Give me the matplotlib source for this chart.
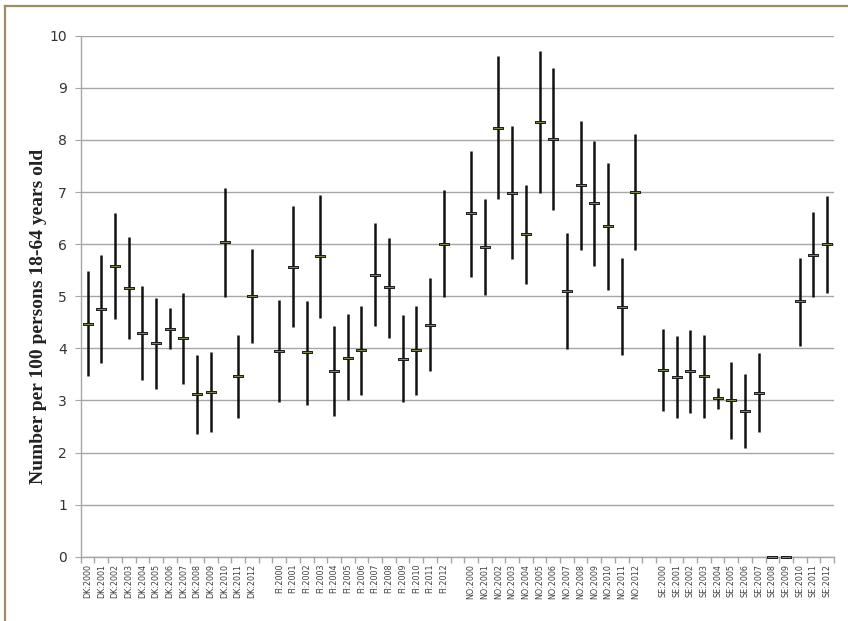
import numpy as np
import matplotlib
matplotlib.use("Agg")
import matplotlib.pyplot as plt
from matplotlib.path import Path
from matplotlib.lines import Line2D

# years per country
years = list(range(2000, 2013))
countries = ["DK", "FI", "NO", "SE"]

# mean, lower and upper bound per country/year
dk_mean = [4.47, 4.75, 5.58, 5.16, 4.29, 4.10, 4.38, 4.19, 3.13, 3.17, 6.04, 3.46, 5.01]
dk_low = [3.46, 3.71, 4.56, 4.17, 3.40, 3.22, 3.98, 3.32, 2.36, 2.40, 4.99, 2.67, 4.10]
dk_high = [5.48, 5.79, 6.59, 6.14, 5.19, 4.97, 4.77, 5.06, 3.87, 3.92, 7.08, 4.25, 5.90]

fi_mean = [3.95, 5.57, 3.92, 5.77, 3.56, 3.82, 3.96, 5.41, 5.17, 3.80, 3.96, 4.45, 6.00]
fi_low = [2.97, 4.40, 2.92, 4.58, 2.70, 3.00, 3.11, 4.42, 4.19, 2.97, 3.11, 3.56, 4.98]
fi_high = [4.93, 6.73, 4.91, 6.95, 4.42, 4.66, 4.81, 6.40, 6.12, 4.63, 4.81, 5.35, 7.03]

no_mean = [6.59, 5.94, 8.23, 6.99, 6.19, 8.34, 8.02, 5.10, 7.14, 6.78, 6.34, 4.80, 7.00]
no_low = [5.36, 5.03, 6.87, 5.71, 5.24, 6.98, 6.65, 3.99, 5.88, 5.58, 5.12, 3.87, 5.89]
no_high = [7.78, 6.87, 9.61, 8.26, 7.14, 9.71, 9.38, 6.22, 8.37, 7.97, 7.56, 5.73, 8.11]

se_mean = [3.58, 3.45, 3.56, 3.46, 3.04, 3.00, 2.80, 3.15, 0.00, 0.00, 4.90, 5.80, 6.00]
se_low = [2.79, 2.67, 2.75, 2.67, 2.84, 2.26, 2.09, 2.39, 0.00, 0.00, 4.05, 4.98, 5.07]
se_high = [4.38, 4.23, 4.35, 4.25, 3.23, 3.73, 3.51, 3.91, 0.00, 0.00, 5.74, 6.62, 6.93]

series = {
    "DK": (dk_mean, dk_low, dk_high),
    "FI": (fi_mean, fi_low, fi_high),
    "NO": (no_mean, no_low, no_high),
    "SE": (se_mean, se_low, se_high),
}

# lay the categories out with one empty slot between countries
labels, means, lows, highs = [], [], [], []
for i, c in enumerate(countries):
    if i > 0:
        labels.append("")
        means.append(np.nan)
        lows.append(np.nan)
        highs.append(np.nan)
    m, lo, hi = series[c]
    labels += [f"{c}:{y}" for y in years]
    means += m
    lows += lo
    highs += hi

x = np.arange(len(labels))
means = np.array(means)
lows = np.array(lows)
highs = np.array(highs)

fig = plt.figure(figsize=(8.48, 6.21), dpi=100)
ax = fig.add_axes([0.0952, 0.1035, 0.8883, 0.839])

ax.set_ylim(0, 10)
ax.set_xlim(-0.5, len(labels) - 0.5)
ax.set_yticks(range(0, 11))
ax.yaxis.grid(True, color="#a6a6a6", lw=1.0)
ax.set_axisbelow(True)

# range lines
ax.vlines(x, lows, highs, color="#111111", lw=1.8, zorder=2)

# flat rectangular marker for the mean
bar_marker = Path([(-1, -0.3), (1, -0.3), (1, 0.3), (-1, 0.3), (-1, -0.3)],
                  [Path.MOVETO, Path.LINETO, Path.LINETO, Path.LINETO, Path.CLOSEPOLY])
ax.plot(x, means, ls="none", marker=bar_marker, ms=6.8, mfc="#728c4c",
        mec="#1a1a1a", mew=0.7, zorder=3, clip_on=False)

for s in ["top", "right"]:
    ax.spines[s].set_visible(False)
for s in ["left", "bottom"]:
    ax.spines[s].set_color("#a6a6a6")
    ax.spines[s].set_linewidth(1.0)

# category labels at slot centres, tick marks on slot edges
shown = [i for i, l in enumerate(labels) if l]
ax.set_xticks(shown)
ax.set_xticklabels([labels[i] for i in shown], rotation=90, fontsize=5.8,
                   color="#404040")
ax.tick_params(axis="x", which="major", length=0, pad=5)
ax.set_xticks(np.arange(-0.5, len(labels)), minor=True)
ax.tick_params(axis="x", which="minor", length=4, color="#a6a6a6", width=1)
ax.tick_params(axis="y", length=4, color="#a6a6a6", labelsize=10,
               labelcolor="#333333", pad=6)

fig.text(39 / 848, 1 - 316 / 621, "Number per 100 persons 18-64 years old",
         rotation=90, ha="center", va="center", fontsize=14,
         fontweight="bold", family="Liberation Serif", color="#222222")

# outer frame (only top and left edges are in view)
frame_col = "#a08c64"
fig.add_artist(Line2D([4.5 / 848, 1.0], [1 - 5.5 / 621] * 2, color=frame_col, lw=1.6))
fig.add_artist(Line2D([4.5 / 848] * 2, [0.0, 1 - 5.5 / 621], color=frame_col, lw=1.6))

fig.savefig("out.png", dpi=100)
